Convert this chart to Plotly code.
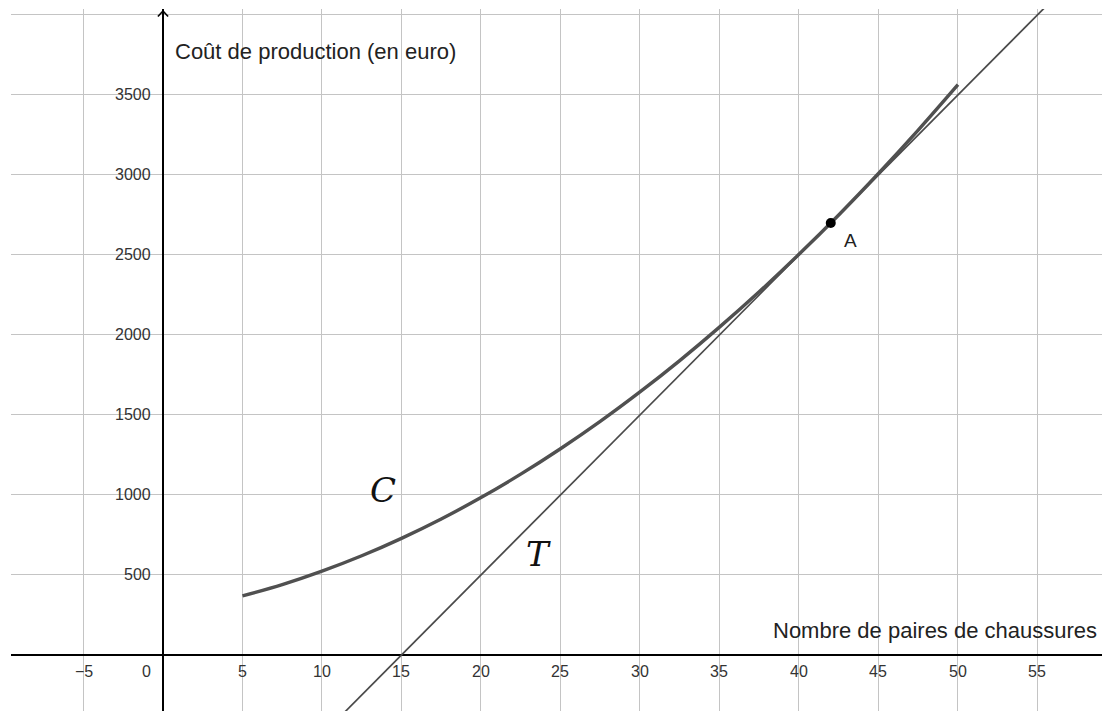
import plotly.graph_objects as go

# --- data ---
curve_x = [5, 7.5, 10, 12.5, 15, 17.5, 20, 22.5, 25, 27.5, 30, 32.5, 35, 37.5, 40, 42.5, 45, 47.5, 50]
curve_y = [369, 440, 524, 620, 729, 850, 984, 1130, 1289, 1460, 1644, 1840, 2049, 2270, 2504, 2750, 3009, 3280, 3564]
tangent_x = [10, 60]
tangent_y = [-500, 4500]
point_A = (42, 2700)
x_ticks = [-5, 0, 5, 10, 15, 20, 25, 30, 35, 40, 45, 50, 55]
x_tick_labels = ["\u22125", "0", "5", "10", "15", "20", "25", "30", "35", "40", "45", "50", "55"]
y_ticks = [500, 1000, 1500, 2000, 2500, 3000, 3500]
y_tick_labels = ["500", "1000", "1500", "2000", "2500", "3000", "3500"]

X_RANGE = [-9.56, 59.06]
Y_RANGE = [-350, 4037]

fig = go.Figure()

fig.add_trace(go.Scatter(x=tangent_x, y=tangent_y, mode="lines",
                         line=dict(color="#4a4a4a", width=1.7), hoverinfo="skip"))
fig.add_trace(go.Scatter(x=curve_x, y=curve_y, mode="lines", line_shape="spline",
                         line=dict(color="#505050", width=3.4), hoverinfo="skip"))
fig.add_trace(go.Scatter(x=[point_A[0]], y=[point_A[1]], mode="markers",
                         marker=dict(color="black", size=10), hoverinfo="skip"))

ann = []
font_tick = dict(family="Liberation Sans, Arial, sans-serif", size=16, color="#333333")
for v, t in zip(x_ticks, x_tick_labels):
    if v == 0:
        ann.append(dict(x=v, y=0, text=t, showarrow=False, xanchor="right", yanchor="middle",
                        xshift=-10, yshift=-17, font=font_tick))
    else:
        ann.append(dict(x=v, y=0, text=t, showarrow=False, xanchor="center", yanchor="middle",
                        yshift=-17, font=font_tick))
for v, t in zip(y_ticks, y_tick_labels):
    ann.append(dict(x=0, y=v, text=t, showarrow=False, xanchor="right", yanchor="middle",
                    xshift=-10, font=font_tick))

font_lbl = dict(family="Liberation Sans, Arial, sans-serif", size=22, color="#222222")
ann.append(dict(x=0, y=3769, text="Coût de production (en euro)", showarrow=False,
                xanchor="left", yanchor="middle", xshift=10, font=font_lbl))
ann.append(dict(x=X_RANGE[1], y=0, text="Nombre de paires de chaussures", showarrow=False,
                xanchor="right", yanchor="middle", xshift=-3, yshift=24, font=font_lbl))
ann.append(dict(x=point_A[0], y=point_A[1], text="A", showarrow=False, xanchor="left",
                yanchor="middle", xshift=11, yshift=-18,
                font=dict(family="Liberation Sans, Arial, sans-serif", size=19, color="#222222")))
font_math = dict(family="DejaVu Serif, Liberation Serif, serif", size=34, color="#111111")
ann.append(dict(x=13.84, y=1031, text="<i>C</i>", showarrow=False, font=font_math))
ann.append(dict(x=23.6, y=631, text="<i>T</i>", showarrow=False, font=font_math))

# y-axis arrow head (open chevron)
shapes = [
    dict(type="line", xref="x", yref="y", x0=-0.32, y0=3990, x1=0, y1=4025,
         line=dict(color="black", width=1.6)),
    dict(type="line", xref="x", yref="y", x0=0.32, y0=3990, x1=0, y1=4025,
         line=dict(color="black", width=1.6)),
]

fig.update_layout(
    width=1102, height=711,
    margin=dict(l=11, r=0, t=9, b=0),
    paper_bgcolor="white", plot_bgcolor="white",
    showlegend=False,
    annotations=ann, shapes=shapes,
    xaxis=dict(range=X_RANGE, dtick=5, tick0=0, showgrid=True, gridcolor="#c4c4c4",
               gridwidth=1, zeroline=True, zerolinecolor="black", zerolinewidth=1.8,
               showticklabels=False, ticks="", showline=False, fixedrange=True),
    yaxis=dict(range=Y_RANGE, dtick=500, tick0=0, showgrid=True, gridcolor="#c4c4c4",
               gridwidth=1, zeroline=True, zerolinecolor="black", zerolinewidth=1.8,
               showticklabels=False, ticks="", showline=False, fixedrange=True),
)

fig.write_html("out.html", config={"displayModeBar": False},
               post_script="document.body.style.margin='0';document.body.style.overflow='hidden';")
